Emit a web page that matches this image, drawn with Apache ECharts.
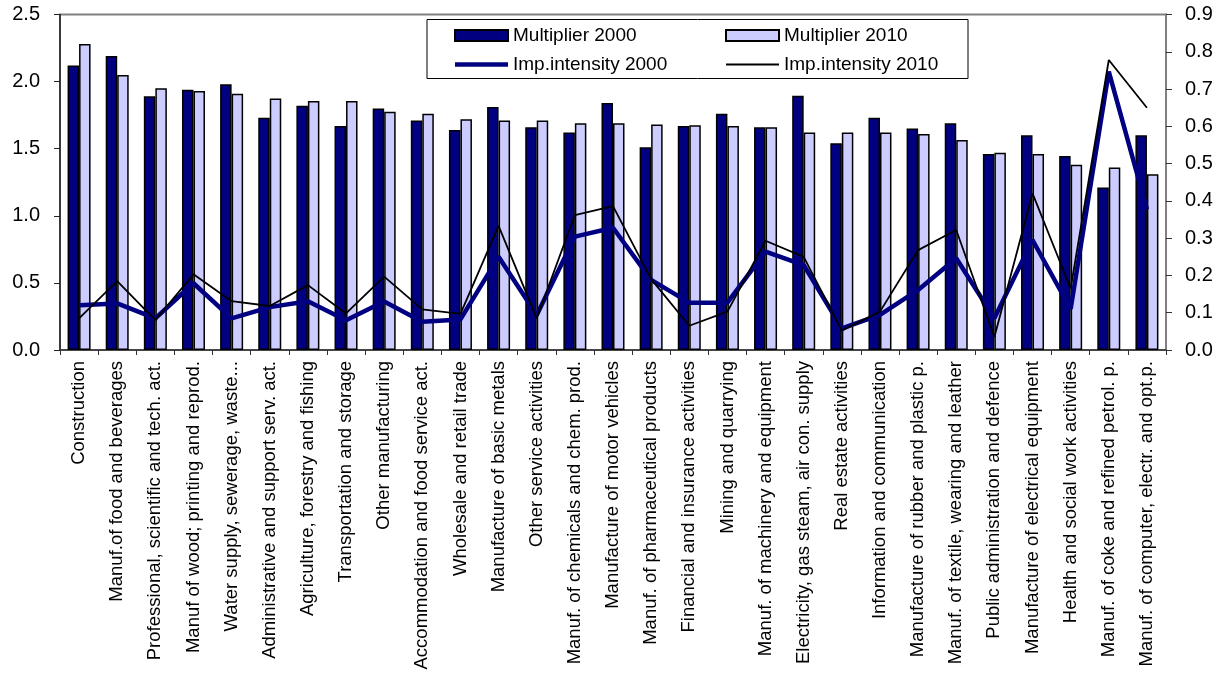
<!DOCTYPE html>
<html>
<head>
<meta charset="utf-8">
<script src="https://cdn.jsdelivr.net/npm/echarts@6/dist/echarts.min.js"></script>
<style>
  html, body { margin: 0; padding: 0; background: #fff; }
  #chart { width: 1223px; height: 675px; }
</style>
</head>
<body>
<div id="chart"></div>
<script>
const categories = [
  'Construction',
  'Manuf.of food and beverages',
  'Professional, scientific and tech. act.',
  'Manuf of wood; printing and reprod.',
  'Water supply, sewerage, waste...',
  'Administrative and support serv. act.',
  'Agriculture, forestry and fishing',
  'Transportation and storage',
  'Other manufacturing',
  'Accommodation and food service act.',
  'Wholesale and retail trade',
  'Manufacture of basic metals',
  'Other service activities',
  'Manuf. of chemicals and chem. prod.',
  'Manufacture of motor vehicles',
  'Manuf. of pharmaceutical products',
  'Financial and insurance activities',
  'Mining and quarrying',
  'Manuf. of machinery and equipment',
  'Electricity, gas steam, air con. supply',
  'Real estate activities',
  'Information and communication',
  'Manufacture of rubber and plastic p.',
  'Manuf. of textile, wearing and leather',
  'Public administration and defence',
  'Manufacture of electrical equipment',
  'Health and social work activities',
  'Manuf. of coke and refined petrol. p.',
  'Manuf. of computer, electr. and opt.p.'
]

// left axis
const mult2000 = [2.12, 2.19, 1.89, 1.94, 1.98, 1.73, 1.82, 1.67, 1.80, 1.71, 1.64, 1.81, 1.66, 1.62, 1.84,
  1.51, 1.67, 1.76, 1.66, 1.895, 1.54, 1.73, 1.65, 1.69, 1.46, 1.60, 1.445, 1.21, 1.60]
const mult2010 = [2.28, 2.05, 1.95, 1.93, 1.91, 1.875, 1.855, 1.855, 1.775, 1.76, 1.72, 1.71, 1.71, 1.69, 1.69,
  1.68, 1.675, 1.67, 1.66, 1.62, 1.62, 1.62, 1.61, 1.565, 1.47, 1.46, 1.38, 1.36, 1.31]

// right axis
const imp2000 = [0.12, 0.125, 0.085, 0.179, 0.085, 0.115, 0.131, 0.08, 0.13, 0.076, 0.082, 0.25, 0.094, 0.304, 0.328,
  0.188, 0.127, 0.127, 0.264, 0.228, 0.058, 0.094, 0.161, 0.246, 0.085, 0.295, 0.11, 0.747, 0.377]
const imp2010 = [0.085, 0.185, 0.08, 0.203, 0.131, 0.118, 0.174, 0.098, 0.197, 0.109, 0.097, 0.333, 0.085, 0.362, 0.386,
  0.19, 0.065, 0.103, 0.293, 0.25, 0.052, 0.103, 0.268, 0.322, 0.035, 0.42, 0.165, 0.778, 0.65]

const FONT = 'Arial, "Liberation Sans", sans-serif'
const NAVY = '#000080'
const LILAC = '#ccccff'

const legendBase = {
  orient: 'vertical',
  top: 26,
  padding: 0,
  itemWidth: 53,
  itemHeight: 11,
  itemGap: 10,
  symbolKeepAspect: true,
  textStyle: { fontSize: 19, fontFamily: FONT, color: '#000' },
  z: 10
}

const myEcharts = echarts.init(document.getElementById('chart'))

myEcharts.setOption({
  animation: false,
  textStyle: { fontFamily: FONT, color: '#000' },
  grid: {
    left: 60,
    right: 57,
    top: 14.5,
    bottom: 325,
    show: true,
    borderColor: '#808080',
    borderWidth: 2,
    outerBoundsMode: 'none'
  },
  graphic: [{
    type: 'rect',
    shape: { x: 427, y: 19.5, width: 541, height: 59 },
    style: { fill: '#fff', stroke: '#000', lineWidth: 1 },
    z: 5
  }],
  legend: [
    Object.assign({}, legendBase, {
      left: 454,
      data: [
        { name: 'Multiplier 2000', icon: 'rect' },
        { name: 'Imp.intensity 2000', icon: 'path://M0,0h53v4.5h-53z' }
      ]
    }),
    Object.assign({}, legendBase, {
      left: 725,
      data: [
        { name: 'Multiplier 2010', icon: 'rect' },
        { name: 'Imp.intensity 2010', icon: 'path://M0,0h53v1.8h-53z' }
      ]
    })
  ],
  xAxis: {
    type: 'category',
    data: categories,
    axisLine: { lineStyle: { color: '#333', width: 1.5 } },
    axisTick: { show: true, length: 5, lineStyle: { color: '#333' } },
    axisLabel: {
      interval: 0,
      rotate: 90,
      fontSize: 18.5,
      fontFamily: FONT,
      color: '#000',
      margin: 11
    }
  },
  yAxis: [
    {
      type: 'value',
      min: 0,
      max: 2.5,
      interval: 0.5,
      splitLine: { show: false },
      axisLine: { show: true, lineStyle: { color: '#222', width: 1.5 } },
      axisTick: { show: true, length: 6, lineStyle: { color: '#222' } },
      axisLabel: {
        fontSize: 20,
        fontFamily: FONT,
        color: '#000',
        margin: 20,
        formatter: v => v.toFixed(1)
      }
    },
    {
      type: 'value',
      min: 0,
      max: 0.9,
      interval: 0.1,
      splitLine: { show: false },
      axisLine: { show: true, lineStyle: { color: '#808080', width: 2 } },
      axisTick: { show: true, length: 6, lineStyle: { color: '#333' } },
      axisLabel: {
        fontSize: 20,
        fontFamily: FONT,
        color: '#000',
        margin: 19,
        formatter: v => v.toFixed(1)
      }
    }
  ],
  series: [
    {
      name: 'Multiplier 2000',
      type: 'bar',
      data: mult2000,
      barWidth: 11.5,
      barGap: '0%',
      itemStyle: { color: NAVY, borderColor: '#000', borderWidth: 1.5 }
    },
    {
      name: 'Multiplier 2010',
      type: 'bar',
      data: mult2010,
      barWidth: 11.5,
      itemStyle: { color: LILAC, borderColor: '#000', borderWidth: 1.5 }
    },
    {
      name: 'Imp.intensity 2000',
      type: 'line',
      yAxisIndex: 1,
      data: imp2000,
      symbol: 'none',
      itemStyle: { color: NAVY },
      lineStyle: { color: NAVY, width: 4.5 },
      z: 3
    },
    {
      name: 'Imp.intensity 2010',
      type: 'line',
      yAxisIndex: 1,
      data: imp2010,
      symbol: 'none',
      itemStyle: { color: '#000' },
      lineStyle: { color: '#000', width: 1.8 },
      z: 4
    }
  ]
})
</script>
</body>
</html>
